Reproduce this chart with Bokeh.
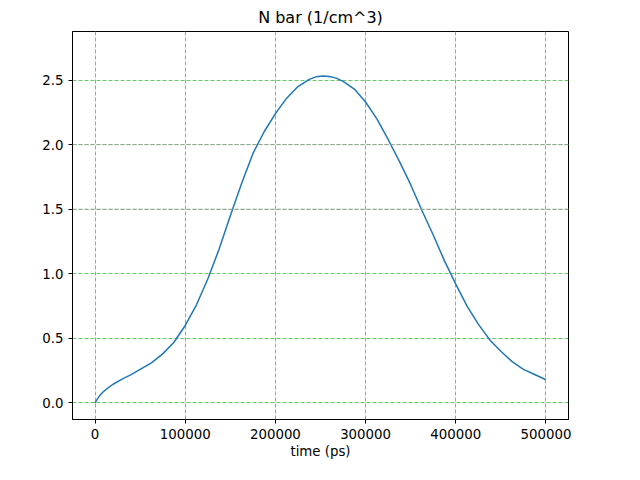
from bokeh.plotting import figure
from bokeh.models import Range1d, Label, Span, NumeralTickFormatter, FixedTicker
from bokeh.embed import file_html
from bokeh.resources import INLINE

# time in ps, N bar in units of 1e15 1/cm^3
time_ps = [0, 2500, 5000, 7500, 10000, 15000, 20000, 30000, 40000, 50000, 62500, 75000,
           87500, 100000, 112500, 125000, 137500, 150000, 162500, 175000, 187500,
           200000, 212500, 225000, 237500, 245000, 252500, 260000, 267500, 275000,
           287500, 300000, 312500, 325000, 337500, 350000, 362500, 375000, 387500,
           400000, 412500, 425000, 437500, 450000, 462500, 475000, 487500, 500000]
n_bar = [0.0, 0.03, 0.055, 0.075, 0.092, 0.12, 0.145, 0.185, 0.22, 0.26, 0.31, 0.38,
         0.47, 0.60, 0.76, 0.96, 1.19, 1.45, 1.70, 1.93, 2.10,
         2.24, 2.36, 2.45, 2.505, 2.525, 2.532, 2.528, 2.515, 2.49,
         2.43, 2.33, 2.20, 2.04, 1.87, 1.69, 1.49, 1.30, 1.10,
         0.92, 0.75, 0.61, 0.49, 0.40, 0.32, 0.26, 0.22, 0.18]

p = figure(width=624, height=464, output_backend="svg", toolbar_location=None,
           x_range=Range1d(-25000, 525000), y_range=Range1d(-0.128, 2.876),
           min_border_left=72, min_border_right=56, min_border_top=20, min_border_bottom=45)
p.title.text = "N bar (1/cm^3)"
p.title.align = "center"
p.title.text_font = "DejaVu Sans"
p.title.text_font_size = "12pt"
p.title.text_font_style = "normal"
p.title.text_color = "black"

p.line(time_ps, n_bar, line_color="#1f77b4", line_width=1.5)

p.xaxis.ticker = FixedTicker(ticks=[0, 100000, 200000, 300000, 400000, 500000])
p.yaxis.ticker = FixedTicker(ticks=[0, 0.5, 1.0, 1.5, 2.0, 2.5])
p.yaxis.formatter = NumeralTickFormatter(format="0.0")
p.xaxis.formatter = NumeralTickFormatter(format="0")
p.xaxis.axis_label = "time (ps)"
for ax in (p.xaxis, p.yaxis):
    ax.axis_label_text_font = "DejaVu Sans"
    ax.axis_label_text_font_style = "normal"
    ax.axis_label_text_font_size = "10pt"
    ax.axis_label_text_color = "black"
    ax.major_label_text_font = "DejaVu Sans"
    ax.major_label_text_font_size = "10pt"
    ax.major_label_text_color = "black"
    ax.minor_tick_line_color = None
    ax.major_tick_out = 4
    ax.major_tick_in = 0
    ax.axis_line_color = "black"
p.xaxis.axis_label_standoff = 2

p.xgrid.grid_line_color = "#a0a0a0"
p.xgrid.grid_line_dash = "4 2"
p.ygrid.grid_line_color = "#6cc46c"
p.ygrid.grid_line_dash = "4 2"
for yv in [1.5, 2.0]:
    p.add_layout(Span(location=yv, dimension="width", line_color="#a0a0a0",
                      line_dash="4 2", line_width=1))

p.outline_line_color = "black"
p.outline_line_alpha = 1

p.add_layout(Label(x=-25000, y=2.876, text="1e15", x_offset=0, y_offset=3,
                   text_baseline="bottom", text_font="DejaVu Sans", text_font_size="10pt"))

open("out.html", "w").write(file_html(p, INLINE))
